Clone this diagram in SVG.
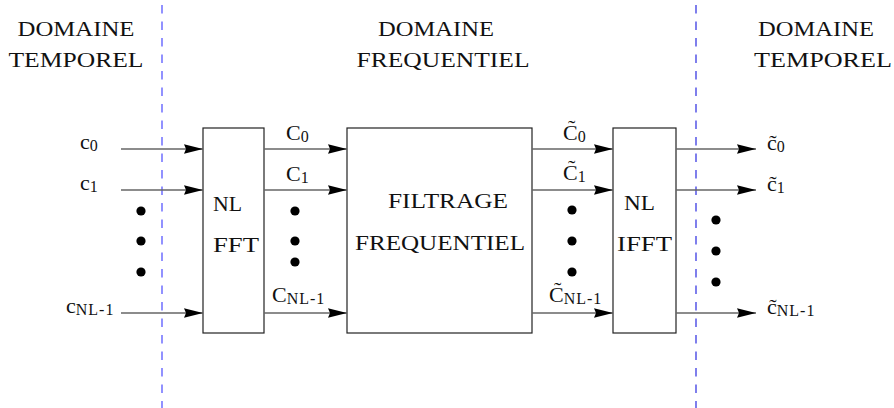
<svg xmlns="http://www.w3.org/2000/svg" width="894" height="408" viewBox="0 0 894 408">
<defs>
<marker id="ah" markerWidth="19" markerHeight="11" refX="19" refY="5.5" orient="auto" markerUnits="userSpaceOnUse">
<path d="M0,0.8 L19,5.5 L0,10.2 L2,5.5 Z" fill="#000"/>
</marker>
</defs>
<style>
text{font-family:"Liberation Serif","Times New Roman",serif;fill:#111;font-size:22px}
.sub{font-size:16px}
.dom{font-size:22px}
.box{fill:#fff;stroke:#222;stroke-width:1.2}
.arr{stroke:#666;stroke-width:1.5;fill:none;marker-end:url(#ah)}
.dot{fill:#000}
</style>
<rect width="894" height="408" fill="#fff"/>

<g id="separators">
<line x1="162" y1="5" x2="162" y2="408" stroke="#7777ff" stroke-width="1.6" stroke-dasharray="8.5 8"/>
<line x1="696" y1="5" x2="696" y2="408" stroke="#2a2ae0" stroke-width="1.2" stroke-dasharray="8.5 8"/>
</g>

<g id="domain-left">
<text class="dom" x="76" y="36" text-anchor="middle" textLength="117" lengthAdjust="spacingAndGlyphs">DOMAINE</text>
<text class="dom" x="76" y="67" text-anchor="middle" textLength="135" lengthAdjust="spacingAndGlyphs">TEMPOREL</text>
</g>
<g id="domain-middle">
<text class="dom" x="436" y="36" text-anchor="middle" textLength="116" lengthAdjust="spacingAndGlyphs">DOMAINE</text>
<text class="dom" x="443" y="67" text-anchor="middle" textLength="173" lengthAdjust="spacingAndGlyphs">FREQUENTIEL</text>
</g>
<g id="domain-right">
<text class="dom" x="816" y="36" text-anchor="middle" textLength="116" lengthAdjust="spacingAndGlyphs">DOMAINE</text>
<text class="dom" x="823" y="67" text-anchor="middle" textLength="138" lengthAdjust="spacingAndGlyphs">TEMPOREL</text>
</g>

<g id="fft">
<rect class="box" x="203" y="128" width="61" height="205"/>
<text x="213" y="211" textLength="29" lengthAdjust="spacingAndGlyphs">NL</text>
<text x="213" y="252" textLength="46" lengthAdjust="spacingAndGlyphs">FFT</text>
</g>
<g id="filtrage">
<rect class="box" x="347" y="128" width="185" height="205"/>
<text x="388" y="208" textLength="120" lengthAdjust="spacingAndGlyphs">FILTRAGE</text>
<text x="355" y="250" textLength="170" lengthAdjust="spacingAndGlyphs">FREQUENTIEL</text>
</g>
<g id="ifft">
<rect class="box" x="613" y="128" width="63" height="205"/>
<text x="624" y="210" textLength="31" lengthAdjust="spacingAndGlyphs">NL</text>
<text x="617" y="251" textLength="55" lengthAdjust="spacingAndGlyphs">IFFT</text>
</g>

<g id="connectors">
<line class="arr" x1="121" y1="149" x2="203" y2="149"/>
<line class="arr" x1="121" y1="190" x2="203" y2="190"/>
<line class="arr" x1="121" y1="313" x2="203" y2="313"/>
<line class="arr" x1="264" y1="149" x2="347" y2="149"/>
<line class="arr" x1="264" y1="190" x2="347" y2="190"/>
<line class="arr" x1="264" y1="313" x2="347" y2="313"/>
<line class="arr" x1="532" y1="149" x2="613" y2="149"/>
<line class="arr" x1="532" y1="190" x2="613" y2="190"/>
<line class="arr" x1="532" y1="313" x2="613" y2="313"/>
<line class="arr" x1="676" y1="149" x2="756" y2="149"/>
<line class="arr" x1="676" y1="190" x2="756" y2="190"/>
<line class="arr" x1="676" y1="313" x2="756" y2="313"/>
</g>

<g id="dots">
<circle class="dot" cx="141" cy="211" r="4.6"/>
<circle class="dot" cx="141" cy="241" r="4.6"/>
<circle class="dot" cx="141" cy="272" r="4.6"/>
<circle class="dot" cx="295" cy="211" r="4.6"/>
<circle class="dot" cx="295" cy="241" r="4.6"/>
<circle class="dot" cx="295" cy="262" r="4.6"/>
<circle class="dot" cx="572" cy="210" r="4.6"/>
<circle class="dot" cx="572" cy="241" r="4.6"/>
<circle class="dot" cx="572" cy="272" r="4.6"/>
<circle class="dot" cx="716" cy="220" r="4.6"/>
<circle class="dot" cx="716" cy="251" r="4.6"/>
<circle class="dot" cx="716" cy="282" r="4.6"/>
</g>

<g id="labels">
<text x="80" y="149">c<tspan class="sub" dy="2">0</tspan></text>
<text x="80" y="190">c<tspan class="sub" dy="2">1</tspan></text>
<text x="66" y="313">c<tspan class="sub" dy="2" letter-spacing="1">NL-1</tspan></text>
<text x="286" y="140">C<tspan class="sub" dy="2">0</tspan></text>
<text x="286" y="181">C<tspan class="sub" dy="2">1</tspan></text>
<text x="272" y="302">C<tspan class="sub" dy="2" letter-spacing="1">NL-1</tspan></text>
<text x="563" y="140">C̃<tspan class="sub" dy="2">0</tspan></text>
<text x="563" y="180">C̃<tspan class="sub" dy="2">1</tspan></text>
<text x="549" y="302">C̃<tspan class="sub" dy="2" letter-spacing="1">NL-1</tspan></text>
<text x="767" y="150">c̃<tspan class="sub" dy="2">0</tspan></text>
<text x="767" y="191">c̃<tspan class="sub" dy="2">1</tspan></text>
<text x="767" y="314">c̃<tspan class="sub" dy="2" letter-spacing="1">NL-1</tspan></text>
</g>
</svg>
